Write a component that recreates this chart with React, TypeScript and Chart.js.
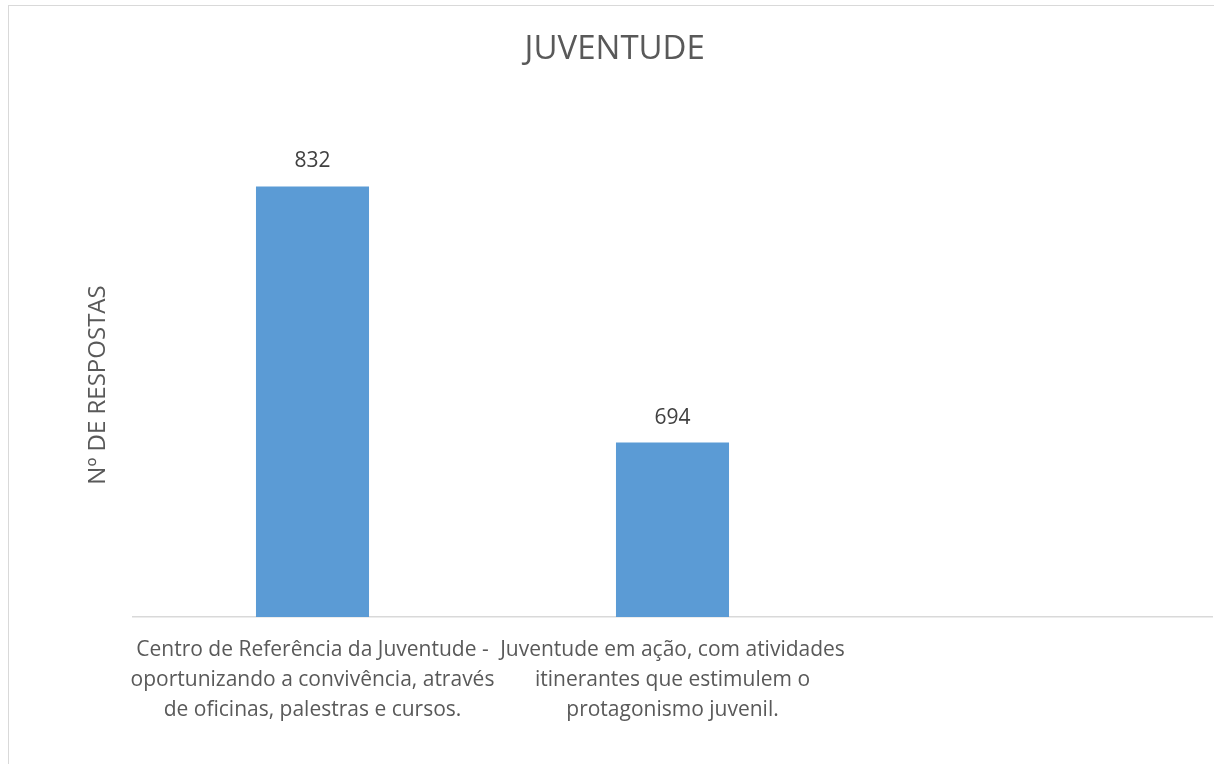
import React, { useEffect, useRef } from "react";
import { Chart, registerables } from "chart.js";

Chart.register(...registerables);

const chartTitle = "JUVENTUDE";
const yAxisTitle = "Nº DE RESPOSTAS";
const categories: string[][] = [
  ["Centro de Referência da Juventude -", "oportunizando a convivência, através", "de oficinas, palestras e cursos."],
  ["Juventude em ação, com atividades", "itinerantes que estimulem o", "protagonismo juvenil."],
  [""],
];
const respostas: (number | null)[] = [832, 694, null];
const yMin = 600;
const yMax = 850;

const FONT = "'Open Sans', 'Noto Sans', sans-serif";

const valueLabels = {
  id: "valueLabels",
  afterDatasetsDraw(chart: any) {
    const ctx = chart.ctx;
    const meta = chart.getDatasetMeta(0);
    const data = chart.data.datasets[0].data;
    ctx.save();
    ctx.font = `21px ${FONT}`;
    ctx.fillStyle = "#404040";
    ctx.textAlign = "center";
    ctx.textBaseline = "middle";
    meta.data.forEach((el: any, i: number) => {
      const v = data[i];
      if (v == null) return;
      ctx.fillText(String(v), el.x, el.y - 25);
    });
    ctx.restore();
  },
};

export default function App() {
  const ref = useRef<HTMLCanvasElement>(null);
  useEffect(() => {
    if (!ref.current) return;
    const chart = new Chart(ref.current, {
      type: "bar",
      data: {
        labels: categories,
        datasets: [
          {
            data: respostas,
            backgroundColor: "#5b9bd5",
            barPercentage: 0.314,
            categoryPercentage: 1,
          },
        ],
      },
      options: {
        responsive: false,
        animation: false,
        devicePixelRatio: 1,
        layout: { padding: { left: 8, right: 8.5, top: 0, bottom: 29 } },
        plugins: {
          legend: { display: false },
          tooltip: { enabled: false },
          title: {
            display: true,
            text: chartTitle,
            color: "#595959",
            font: { family: FONT, size: 33, weight: "normal", lineHeight: 1.2 },
            padding: { top: 24, bottom: 83.4 },
          },
        },
        scales: {
          x: {
            grid: { display: false, drawTicks: false },
            border: { display: true, color: "#d9d9d9", width: 1.5 },
            ticks: {
              color: "#595959",
              font: { family: FONT, size: 21, lineHeight: "30px" },
              padding: 18,
              maxRotation: 0,
              minRotation: 0,
              autoSkip: false,
            },
            afterFit: (s: any) => {
              s.height = 140;
            },
          },
          y: {
            min: yMin,
            max: yMax,
            grid: { display: false, drawTicks: false },
            border: { display: false },
            ticks: { display: false },
            title: {
              display: true,
              text: yAxisTitle,
              color: "#595959",
              font: { family: FONT, size: 24, weight: "normal", lineHeight: 1.2 },
              padding: { top: 66.6, bottom: 0 },
            },
            afterFit: (s: any) => {
              s.width = 115.5;
            },
          },
        },
      },
      plugins: [valueLabels],
    });
    return () => chart.destroy();
  }, []);

  return (
    <div style={{ position: "fixed", left: 0, top: 0, width: "100vw", height: "100vh", overflow: "hidden", background: "#fff" }}>
      <div style={{ position: "absolute", left: 8, top: 5, width: 1212, height: 780, border: "1px solid #d9d9d9", background: "#fff" }}>
        <canvas ref={ref} width={1212} height={780} style={{ display: "block" }} />
      </div>
    </div>
  );
}
